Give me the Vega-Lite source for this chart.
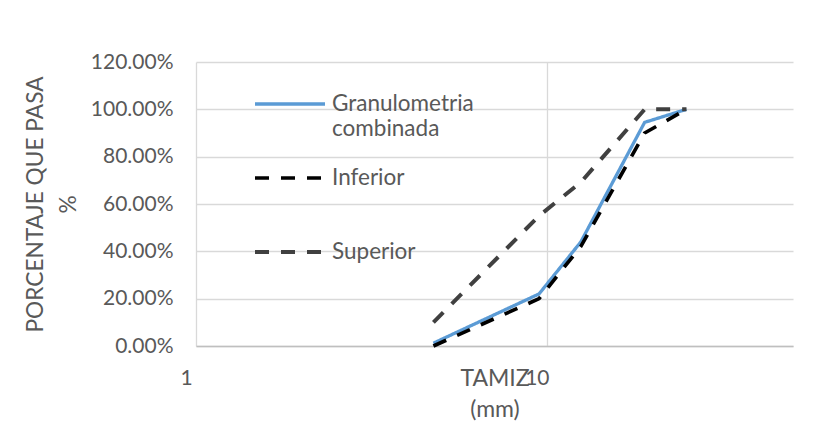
{
  "$schema": "https://vega.github.io/schema/vega-lite/v6.json",
  "width": 597,
  "height": 284,
  "autosize": "none",
  "padding": {"left": 196, "top": 62, "right": 47, "bottom": 76},
  "background": "white",
  "config": {
    "view": {"stroke": null},
    "font": "Lato",
    "axis": {
      "labelColor": "#595959",
      "titleColor": "#595959",
      "titleFontWeight": "normal",
      "gridColor": "#d9d9d9",
      "gridWidth": 1.3,
      "ticks": false
    }
  },
  "data": {
    "values": [
      {"tamiz": 4.75, "pasa": 0.012, "serie": "Granulometria combinada"},
      {"tamiz": 9.5, "pasa": 0.22, "serie": "Granulometria combinada"},
      {"tamiz": 12.5, "pasa": 0.44, "serie": "Granulometria combinada"},
      {"tamiz": 19, "pasa": 0.945, "serie": "Granulometria combinada"},
      {"tamiz": 25, "pasa": 1.0, "serie": "Granulometria combinada"},
      {"tamiz": 4.75, "pasa": 0.0, "serie": "Inferior"},
      {"tamiz": 9.5, "pasa": 0.2, "serie": "Inferior"},
      {"tamiz": 12.5, "pasa": 0.421, "serie": "Inferior"},
      {"tamiz": 19, "pasa": 0.9, "serie": "Inferior"},
      {"tamiz": 25, "pasa": 1.0, "serie": "Inferior"},
      {"tamiz": 4.75, "pasa": 0.1, "serie": "Superior"},
      {"tamiz": 9.5, "pasa": 0.55, "serie": "Superior"},
      {"tamiz": 12.5, "pasa": 0.692, "serie": "Superior"},
      {"tamiz": 19, "pasa": 1.0, "serie": "Superior"},
      {"tamiz": 25, "pasa": 1.0, "serie": "Superior"}
    ]
  },
  "mark": {"type": "line", "strokeCap": "butt", "strokeJoin": "round"},
  "encoding": {
    "x": {
      "field": "tamiz",
      "type": "quantitative",
      "scale": {"type": "log", "domain": [1, 50.3], "nice": false},
      "axis": {
        "values": [1, 10],
        "format": "d",
        "labelFontSize": 21,
        "labelPadding": 21,
        "labelFlush": false,
        "labelAlign": "center",
        "labelOffset": -10,
        "domainColor": "#bfbfbf",
        "domainWidth": 1.3,
        "title": ["TAMIZ", "(mm)"],
        "titleFontSize": 23,
        "titleLineHeight": 31,
        "titleBaseline": "alphabetic",
        "titleX": 298.5,
        "titleY": 39
      }
    },
    "y": {
      "field": "pasa",
      "type": "quantitative",
      "scale": {"domain": [0, 1.2], "nice": false},
      "axis": {
        "values": [0, 0.2, 0.4, 0.6, 0.8, 1.0, 1.2],
        "format": ".2%",
        "labelFontSize": 21,
        "labelPadding": 23,
        "domain": false,
        "title": ["PORCENTAJE QUE PASA", "%"],
        "titleFontSize": 22.7,
        "titleLineHeight": 33,
        "titleBaseline": "alphabetic",
        "titleAngle": -90,
        "titleAlign": "center",
        "titleX": -154,
        "titleY": 142
      }
    },
    "color": {
      "field": "serie",
      "type": "nominal",
      "scale": {
        "domain": ["Granulometria combinada", "Inferior", "Superior"],
        "range": ["#5b9bd5", "#000000", "#404040"]
      },
      "legend": {
        "orient": "none",
        "legendX": 57,
        "legendY": 5,
        "title": null,
        "padding": 0,
        "symbolType": "stroke",
        "symbolSize": 4900,
        "labelFontSize": 22.5,
        "labelColor": "#595959",
        "labelOffset": 5,
        "labelLimit": 400,
        "rowPadding": 0,
        "gridAlign": "all",
        "labelExpr": "datum.label == 'Granulometria combinada' ? ['Granulometria', 'combinada'] : datum.label",
        "encode": {"labels": {"update": {"lineHeight": {"value": 25}}}}
      }
    },
    "strokeDash": {
      "field": "serie",
      "type": "nominal",
      "scale": {
        "domain": ["Granulometria combinada", "Inferior", "Superior"],
        "range": [[1, 0], [14, 12], [14, 12]]
      }
    },
    "strokeWidth": {
      "field": "serie",
      "type": "nominal",
      "scale": {
        "domain": ["Granulometria combinada", "Inferior", "Superior"],
        "range": [3.3, 4, 3.3]
      }
    }
  }
}
